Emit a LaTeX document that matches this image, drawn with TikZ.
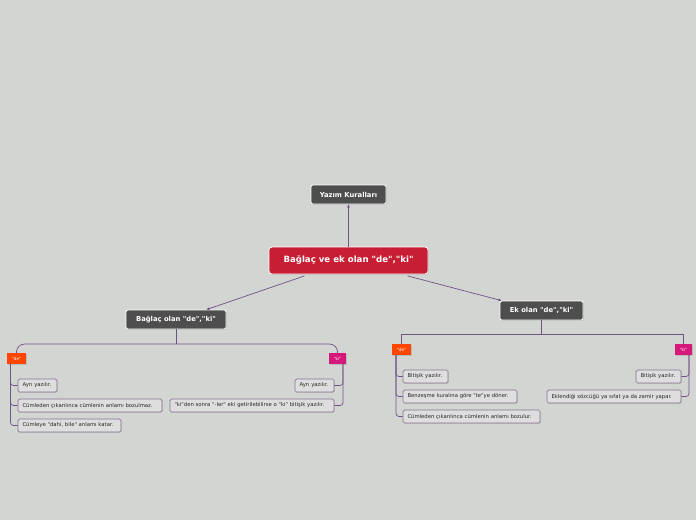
\documentclass[tikz,border=0pt]{standalone}
\usepackage{fontspec}
\setmainfont{DejaVu Sans}[Ligatures=TeXOff]
\usetikzlibrary{shadows,arrows.meta,calc}
\definecolor{bg}{RGB}{211,213,210}
\definecolor{darkbox}{RGB}{78,78,78}
\definecolor{rootred}{RGB}{200,30,52}
\definecolor{conn}{RGB}{112,82,132}
\definecolor{childfill}{RGB}{222,222,222}
\definecolor{childborder}{RGB}{135,115,145}
\definecolor{deorange}{RGB}{255,70,0}
\definecolor{kimag}{RGB}{214,24,122}
\tikzset{
  dark/.style={draw=white, line width=0.8pt, fill=darkbox, rounded corners=2pt, text=white,
    font=\bfseries\fontsize{6.8}{8}\selectfont, inner sep=0pt,
    drop shadow={shadow xshift=0.8pt, shadow yshift=-0.8pt, opacity=0.35}},
  rootbox/.style={draw=white, line width=0.8pt, fill=rootred, rounded corners=3pt, text=white,
    font=\bfseries\fontsize{8.6}{10}\selectfont, inner sep=0pt, minimum width=159pt, minimum height=27pt,
    drop shadow={shadow xshift=0.8pt, shadow yshift=-0.8pt, opacity=0.35}},
  tagbox/.style={fill=#1, text=white, font=\fontsize{4.2}{5}\selectfont, inner sep=0pt,
    minimum height=11pt, drop shadow={shadow xshift=0.6pt, shadow yshift=-0.6pt, opacity=0.3}},
  leaf/.style={draw=childborder, line width=0.7pt, fill=childfill, rounded corners=1.5pt, text=black!85,
    font=\fontsize{5.3}{6.4}\selectfont, inner xsep=4.5pt, inner ysep=0pt, minimum height=13pt,
    text width=#1, align=left,
    drop shadow={shadow xshift=0.7pt, shadow yshift=-0.7pt, opacity=0.3}},
  link/.style={draw=conn, line width=0.7pt},
  arr/.style={link, -{Latex[length=3pt,width=3pt]}},
}
\begin{document}
\begin{tikzpicture}[x=1pt,y=-1pt]
\fill[bg] (0,0) rectangle (696,520);
\useasboundingbox (0,0) rectangle (696,520);

% main nodes
\node[rootbox] (root) at (348.5,260.5) {Bağlaç ve ek olan "de","ki"};
\node[dark, minimum width=75pt, minimum height=19pt] (yk) at (348.5,194.5) {Yazım Kuralları};
\node[dark, minimum width=100pt, minimum height=19pt] (bl) at (176,319.5) {Bağlaç olan "de","ki"};
\node[dark, minimum width=83pt, minimum height=19pt] (ek) at (541.5,310.5) {Ek olan "de","ki"};

% tags
\node[tagbox=deorange, minimum width=19pt] (lde) at (16.5,358.5) {"de"};
\node[tagbox=kimag, minimum width=17pt] (lki) at (337.5,358.5) {"ki"};
\node[tagbox=deorange, minimum width=19pt] (rde) at (401.5,349.5) {"de"};
\node[tagbox=kimag, minimum width=17pt] (rki) at (683.5,349.5) {"ki"};

% left de leaves
\node[leaf=30pt] (a1) at (37.5,385.5) {Ayrı yazılır.};
\node[leaf=135pt] (a2) at (90,405.5) {Cümleden çıkarılınca cümlenin anlamı bozulmaz.};
\node[leaf=94pt] (a3) at (69.5,425.5) {Cümleye "dahi, bile" anlamı katar.};
% left ki leaves
\node[leaf=30pt] (b1) at (314.5,385.5) {Ayrı yazılır.};
\node[leaf=155pt] (b2) at (252,405.5) {"ki"den sonra "-ler" eki getirilebilirse o "ki" bitişik yazılır.};
% right de leaves
\node[leaf=36pt] (c1) at (425.5,376.5) {Bitişik yazılır.};
\node[leaf=105pt] (c2) at (460,396.5) {Benzeşme kuralına göre "te"ye döner.};
\node[leaf=128pt] (c3) at (471.5,416.5) {Cümleden çıkarılınca cümlenin anlamı bozulur.};
% right ki leaves
\node[leaf=36pt] (d1) at (658.5,376.5) {Bitişik yazılır.};
\node[leaf=125pt] (d2) at (614,396.5) {Eklendiği sözcüğü ya sıfat ya da zamir yapar.};

% arrows from root
\draw[arr] (root.north) -- (yk.south);
\draw[arr] ($(root.south)+(-44,1.5)$) -- ($(bl.north east)+(-20,0)$);
\draw[arr] ($(root.south)+(59,1.5)$) -- ($(ek.north west)+(2,0)$);

% left branch bar
\coordinate (lbar) at (176,344);
\draw[link] (bl.south) -- (lbar);
\draw[link, rounded corners=8pt] (lde.north) -- (lde.north |- lbar) -- (lki.north |- lbar) -- (lki.north);
% right branch bar
\coordinate (rbar) at (541.5,334);
\draw[link] (ek.south) -- (rbar);
\draw[link] (rde.north) -- (rde.north |- rbar) -- (rki.north |- rbar) -- (rki.north);

% leaf connectors
\coordinate (ldl) at (10.5,364);
\coordinate (lkl) at (343,364);
\coordinate (rdl) at (396,355);
\coordinate (rkl) at (689,355);
\foreach \n in {a1,a2,a3} \draw[link, rounded corners=3pt] (ldl) |- (\n.west);
\foreach \n in {b1,b2} \draw[link, rounded corners=3pt] (lkl) |- (\n.east);
\foreach \n in {c1,c2,c3} \draw[link, rounded corners=3pt] (rdl) |- (\n.west);
\foreach \n in {d1,d2} \draw[link, rounded corners=3pt] (rkl) |- (\n.east);
\end{tikzpicture}
\end{document}
